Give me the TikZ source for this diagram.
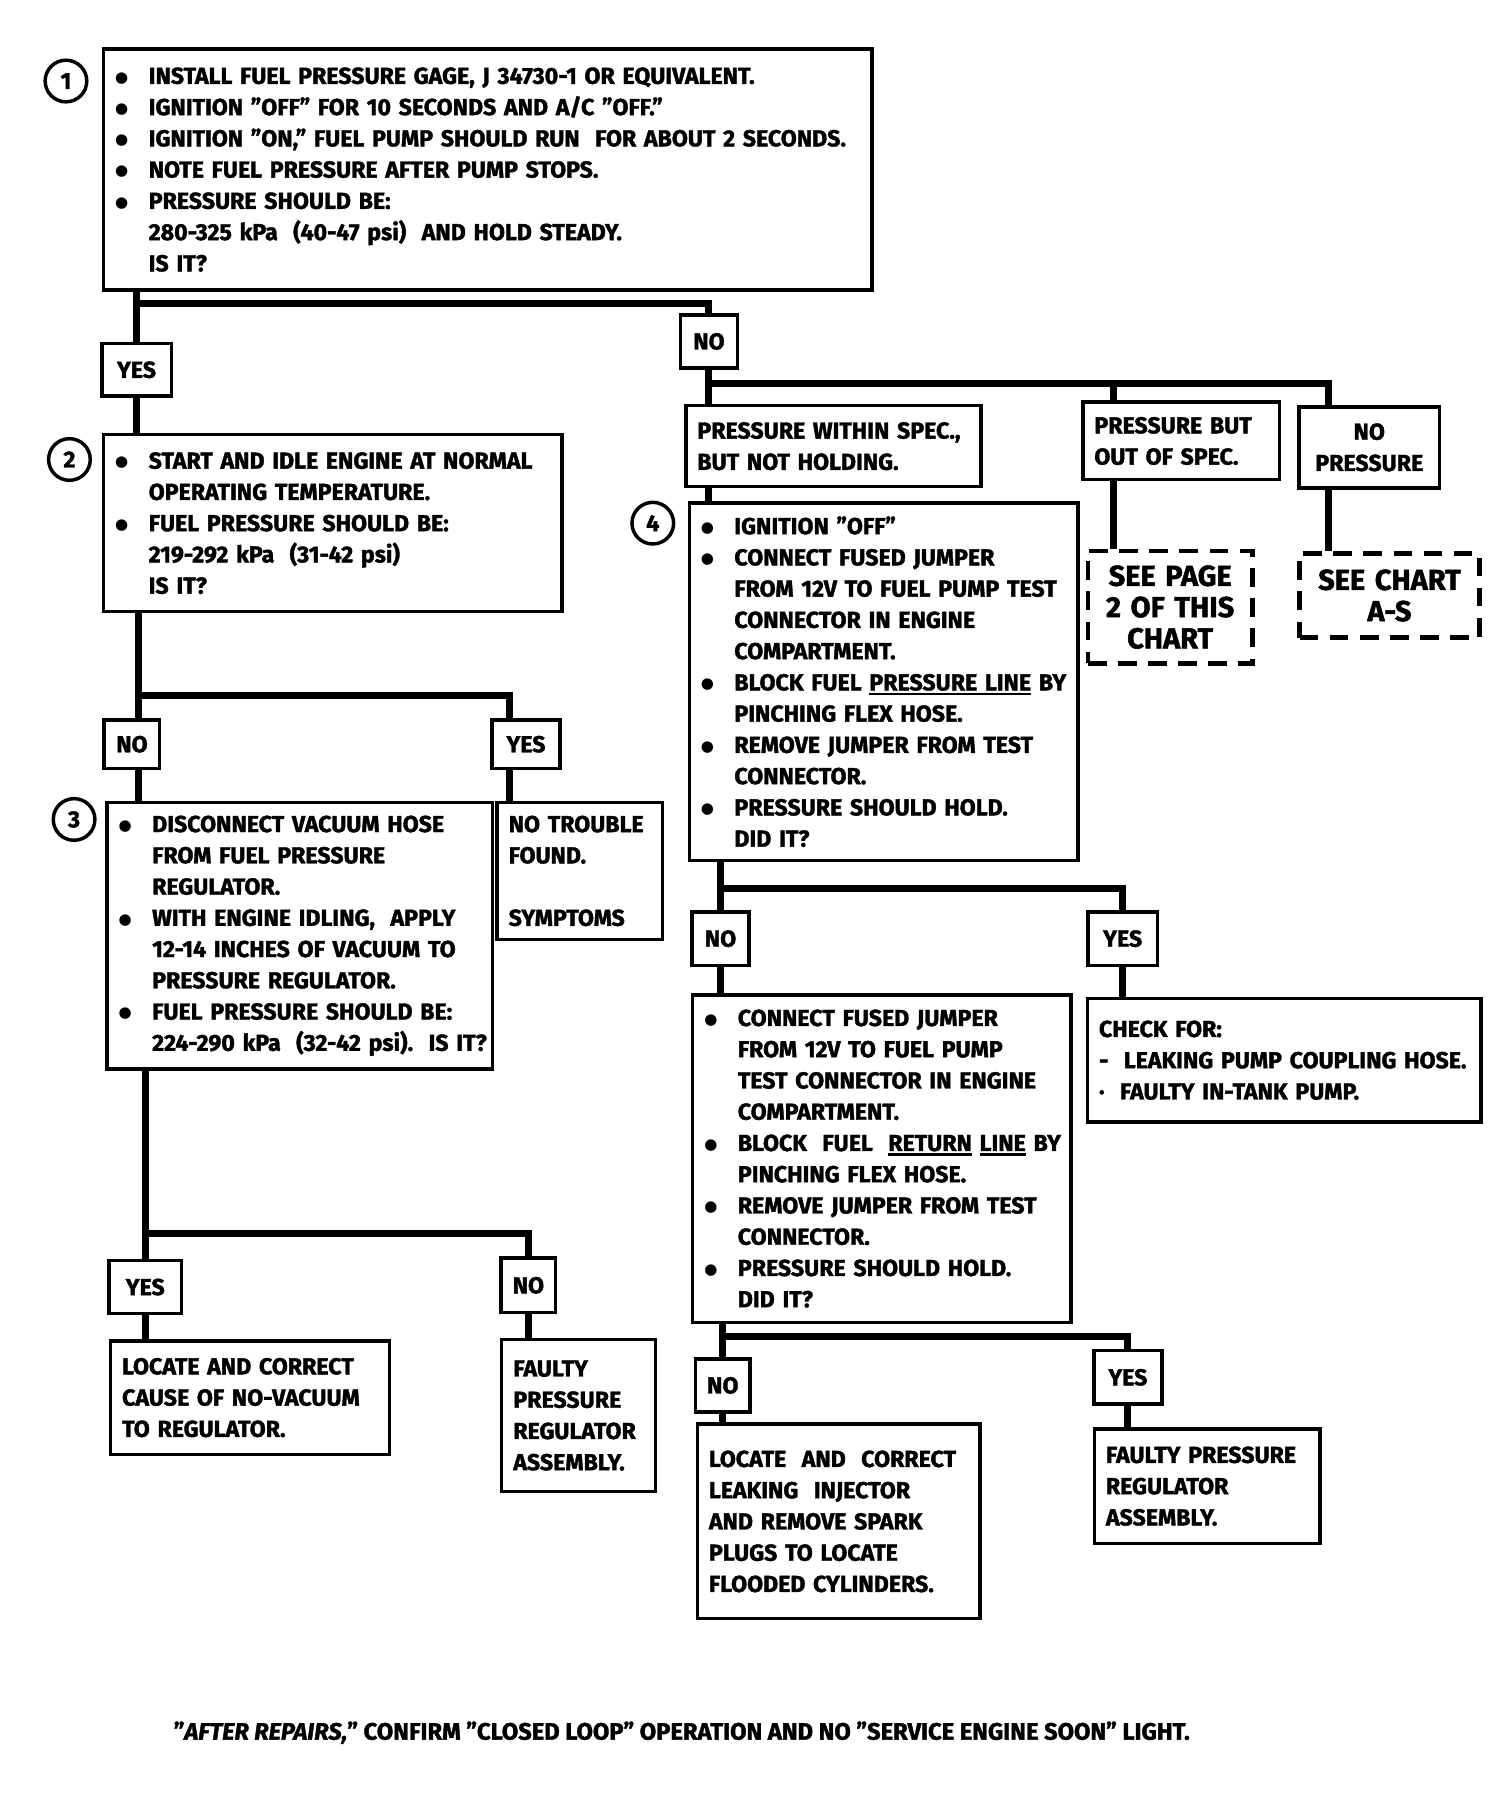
\documentclass[tikz,border=0pt]{standalone}
\usepackage{fontspec}
\setmainfont{Fira Sans}[BoldFeatures={FakeBold=1.6}, BoldItalicFeatures={FakeBold=1.6}]
\newfontfamily\djv{DejaVu Sans}
\newcommand\bigbul{\raisebox{1.5pt}{\djv\fontsize{13}{13}\selectfont ●}}
\newcommand\bl[1]{\mbox{\makebox[29pt][l]{\bigbul}#1}}
\newcommand\il[1]{\mbox{\hspace*{29pt}#1}}
\newcommand\pl[1]{\mbox{#1}}
\newcommand\myul[1]{\leavevmode\setbox0\hbox{#1}\rlap{\rule[-4pt]{\wd0}{2pt}}\box0\relax}
\begin{document}
\begin{tikzpicture}[x=1pt,y=-1pt,
  every node/.style={font=\fontsize{20}{27}\selectfont\bfseries},
  tb/.style={draw, line width=3pt, anchor=north west, align=left, inner xsep=10pt, inner ysep=0pt},
  tbc/.style={tb, align=center},
  lab/.style={draw, line width=3pt, inner sep=0pt},
  circ/.style={draw, circle, line width=3pt, minimum size=36pt, inner sep=0pt},
  dbox/.style={draw, line width=4pt, dash pattern=on 16pt off 10pt, anchor=north west, align=center, inner sep=0pt, font=\fontsize{25}{27}\selectfont\bfseries},
  conn/.style={line width=6pt, line join=miter}]
\fill[white] (0,0) rectangle (1300,1550);
\useasboundingbox (0,0) rectangle (1300,1550);

% ---- boxes ----
\node[tb, minimum width=664pt, minimum height=208pt, text width=644pt] (b1) at (88,41) {%
\bl{INSTALL FUEL PRESSURE GAGE, J 34730-1 OR EQUIVALENT.}\\
\bl{IGNITION "OFF" FOR 10 SECONDS AND A/C "OFF."}\\
\bl{IGNITION "ON," FUEL PUMP SHOULD RUN\ \ FOR ABOUT 2 SECONDS.}\\
\bl{NOTE FUEL PRESSURE AFTER PUMP STOPS.}\\
\bl{PRESSURE SHOULD BE:}\\
\il{280-325 kPa\ \ (40-47 psi)\ \ AND HOLD STEADY.}\\
\il{IS IT?}};
\node[circ] (c1) at (57,70) {1};

\node[tb, minimum width=396pt, minimum height=153pt, text width=376pt] (b2) at (88,374) {%
\bl{START AND IDLE ENGINE AT NORMAL}\\
\il{OPERATING TEMPERATURE.}\\
\bl{FUEL PRESSURE SHOULD BE:}\\
\il{219-292 kPa\ \ (31-42 psi)}\\
\il{IS IT?}};
\node[circ] (c2) at (60,397) {2};

\node[tb, minimum width=333pt, minimum height=230pt, text width=313pt] (b3) at (91,692) {%
\bl{DISCONNECT VACUUM HOSE}\\
\il{FROM FUEL PRESSURE}\\
\il{REGULATOR.}\\
\bl{WITH ENGINE IDLING,\ \ APPLY}\\
\il{12-14 INCHES OF VACUUM TO}\\
\il{PRESSURE REGULATOR.}\\
\bl{FUEL PRESSURE SHOULD BE:}\\
\il{224-290 kPa\ \ (32-42 psi).\ \ IS IT?}};
\node[circ] (c3) at (64,708) {3};

\node[tb, minimum width=143pt, minimum height=118pt, text width=123pt] (ntf) at (428,692) {%
\pl{NO TROUBLE}\\ \pl{FOUND.}\\[27pt] \pl{SYMPTOMS}};

\node[tb, minimum width=241pt, minimum height=98pt, text width=221pt] (lc1) at (94,1157) {%
\pl{LOCATE AND CORRECT}\\ \pl{CAUSE OF NO-VACUUM}\\ \pl{TO REGULATOR.}};
\node[tb, minimum width=133pt, minimum height=131pt, text width=113pt] (fpr1) at (432,1156) {%
\pl{FAULTY}\\ \pl{PRESSURE}\\ \pl{REGULATOR}\\ \pl{ASSEMBLY.}};

\node[tb, minimum width=255pt, minimum height=70pt, text width=235pt] (pw) at (591,349) {%
\pl{PRESSURE WITHIN SPEC.,}\\ \pl{BUT NOT HOLDING.}};
\node[tb, minimum width=170pt, minimum height=67pt, text width=150pt] (pb) at (934,346) {%
\pl{PRESSURE BUT}\\ \pl{OUT OF SPEC.}};
\node[tbc, minimum width=121pt, minimum height=70pt, text width=101pt] (np) at (1121,350) {%
\pl{NO}\\ \pl{PRESSURE}};
\node[dbox, minimum width=142pt, minimum height=97pt, text width=142pt] (sp2) at (938,474) {%
\pl{SEE PAGE}\\ \pl{2 OF THIS}\\ \pl{CHART}};
\node[dbox, minimum width=155pt, minimum height=73pt, text width=155pt] (sca) at (1121,476) {%
\pl{SEE CHART}\\ \pl{A-S}};

\node[tb, minimum width=336pt, minimum height=309pt, text width=316pt] (b4) at (594,433) {%
\bl{IGNITION "OFF"}\\
\bl{CONNECT FUSED JUMPER}\\
\il{FROM 12V TO FUEL PUMP TEST}\\
\il{CONNECTOR IN ENGINE}\\
\il{COMPARTMENT.}\\
\bl{BLOCK FUEL \myul{PRESSURE LINE} BY}\\
\il{PINCHING FLEX HOSE.}\\
\bl{REMOVE JUMPER FROM TEST}\\
\il{CONNECTOR.}\\
\bl{PRESSURE SHOULD HOLD.}\\
\il{DID IT?}};
\node[circ] (c4) at (564,452) {4};

\node[tb, minimum width=327pt, minimum height=283pt, text width=307pt] (b5) at (597,858) {%
\bl{CONNECT FUSED JUMPER}\\
\il{FROM 12V TO FUEL PUMP}\\
\il{TEST CONNECTOR IN ENGINE}\\
\il{COMPARTMENT.}\\
\bl{BLOCK\ \ FUEL\ \ \myul{RETURN} \myul{LINE} BY}\\
\il{PINCHING FLEX HOSE.}\\
\bl{REMOVE JUMPER FROM TEST}\\
\il{CONNECTOR.}\\
\bl{PRESSURE SHOULD HOLD.}\\
\il{DID IT?}};

\node[tb, minimum width=340pt, minimum height=107pt, text width=320pt] (chk) at (938,861) {%
\pl{CHECK FOR:}\\ \pl{-\ \ LEAKING PUMP COUPLING HOSE.}\\ \pl{·\ \ FAULTY IN-TANK PUMP.}};

\node[tb, minimum width=244pt, minimum height=168pt, text width=224pt] (lc2) at (601,1229) {%
\pl{LOCATE\ \ AND\ \ CORRECT}\\ \pl{LEAKING\ \ INJECTOR}\\ \pl{AND REMOVE SPARK}\\ \pl{PLUGS TO LOCATE}\\ \pl{FLOODED CYLINDERS.}};
\node[tb, minimum width=195pt, minimum height=99pt, text width=175pt] (fpr2) at (944,1233) {%
\pl{FAULTY PRESSURE}\\ \pl{REGULATOR}\\ \pl{ASSEMBLY.}};

% ---- YES / NO labels ----
\node[lab, minimum width=60pt, minimum height=45pt] (yes1) at (118,319.5) {YES};
\node[lab, minimum width=49pt, minimum height=46pt] (no1) at (612.5,295) {NO};
\node[lab, minimum width=48pt, minimum height=42pt] (no2) at (114,643) {NO};
\node[lab, minimum width=59pt, minimum height=42pt] (yes2) at (454.5,643) {YES};
\node[lab, minimum width=63pt, minimum height=46pt] (yes3) at (125.5,1112) {YES};
\node[lab, minimum width=47pt, minimum height=47pt] (no3) at (456.5,1110.5) {NO};
\node[lab, minimum width=49pt, minimum height=46pt] (no4) at (622.5,811) {NO};
\node[lab, minimum width=60pt, minimum height=46pt] (yes4) at (970,811) {YES};
\node[lab, minimum width=47pt, minimum height=46pt] (no5) at (624.5,1197) {NO};
\node[lab, minimum width=59pt, minimum height=46pt] (yes5) at (974.5,1190) {YES};

% ---- connectors ----
\coordinate (j1) at (118,262);
\draw[conn] (b1.south -| j1) -- (yes1.north);
\draw[conn] (j1) -| (no1.north);
\draw[conn] (yes1.south) -- (yes1.south |- b2.north);

\coordinate (j2) at (120,601);
\coordinate (y2x) at (440,601);
\draw[conn] (b2.south -| j2) -- (no2.north -| j2);
\draw[conn] (j2) -- (y2x) -- (y2x |- yes2.north);
\draw[conn] (no2.south -| j2) -- (b3.north -| j2);
\draw[conn] (y2x |- yes2.south) -- (y2x |- ntf.north);

\coordinate (j3) at (125.5,1066);
\draw[conn] (b3.south -| j3) -- (yes3.north);
\draw[conn] (j3) -| (no3.north);
\draw[conn] (yes3.south) -- (yes3.south |- lc1.north);
\draw[conn] (no3.south) -- (no3.south |- fpr1.north);

\coordinate (j4) at (612.5,331);
\coordinate (k1) at (962,331);
\coordinate (k2) at (1148,331);
\draw[conn] (no1.south) -- (no1.south |- pw.north);
\draw[conn] (j4) -- (k2) -- (k2 |- np.north);
\draw[conn] (k1) -- (k1 |- pb.north);
\draw[conn] (k1 |- pb.south) -- (k1 |- sp2.north);
\draw[conn] (k2 |- np.south) -- (k2 |- sca.north);
\draw[conn] (j4 |- pw.south) -- (j4 |- b4.north);

\coordinate (j5) at (622.5,768);
\draw[conn] (b4.south -| j5) -- (no4.north);
\draw[conn] (j5) -| (yes4.north);
\draw[conn] (no4.south) -- (no4.south |- b5.north);
\draw[conn] (yes4.south) -- (yes4.south |- chk.north);

\coordinate (j6) at (624.5,1155);
\draw[conn] (b5.south -| j6) -- (no5.north);
\draw[conn] (j6) -| (yes5.north);
\draw[conn] (no5.south) -- (no5.south |- lc2.north);
\draw[conn] (yes5.south) -- (yes5.south |- fpr2.north);

% ---- footer ----
\node[anchor=west, inner sep=0pt, font=\fontsize{20.5}{27}\selectfont\bfseries] (foot) at (150,1497) {"\textit{AFTER REPAIRS,}" CONFIRM "CLOSED LOOP" OPERATION AND NO "SERVICE ENGINE SOON" LIGHT.};
\end{tikzpicture}
\end{document}
